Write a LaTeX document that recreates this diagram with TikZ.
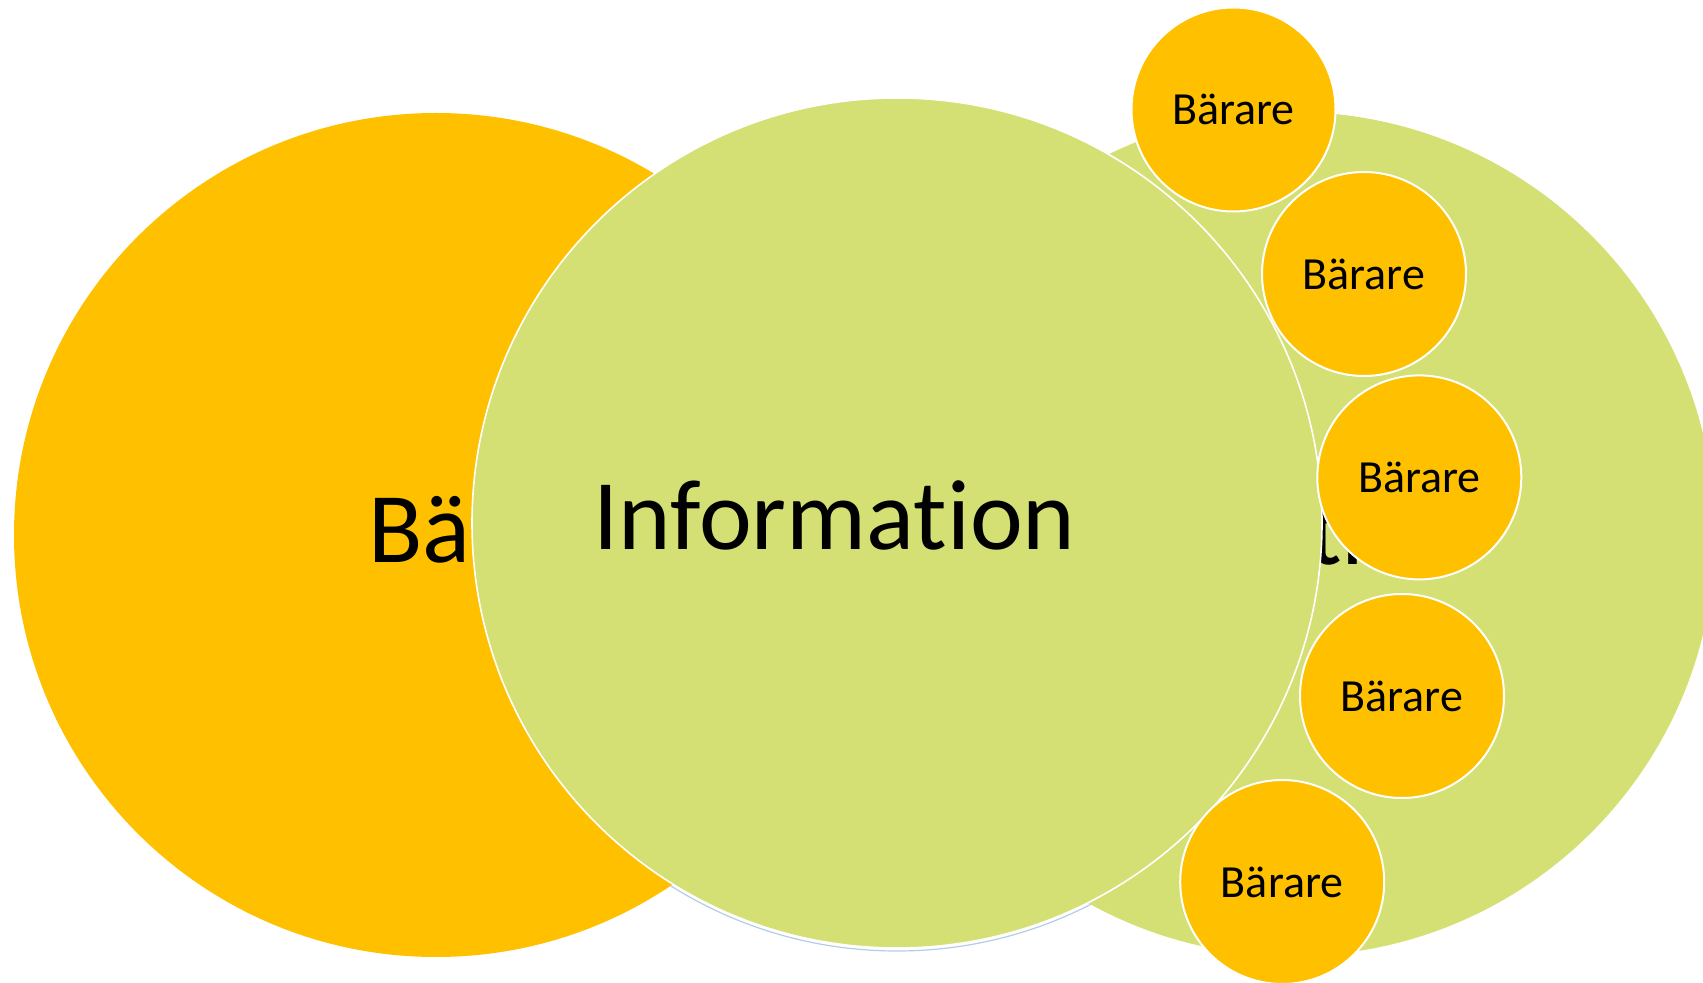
\documentclass[tikz,border=0pt]{standalone}
\usepackage{fontspec}
\setmainfont[Ligatures=NoCommon]{Carlito}
\definecolor{gul}{HTML}{FFC000}
\definecolor{gron}{HTML}{D4DF74}
\definecolor{skugga}{HTML}{B4CCE4}
\tikzset{
  stor/.style={circle, inner sep=0pt, minimum size=#1},
  liten/.style={circle, inner sep=0pt, minimum size=102pt, fill=gul, draw=white, line width=1pt, font=\fontsize{23}{27}\selectfont},
  rubrik/.style={anchor=base, inner sep=0pt, font=\fontsize{50}{60}\selectfont}
}
\begin{document}
\begin{tikzpicture}[x=0.5pt, y=-0.5pt]
            \useasboundingbox (0,0) rectangle (1703,983);
            \node[stor=425pt, draw=skugga, line width=0.6pt] (skugga) at (897,526) {};
            \node[stor=422pt, fill=gul] (barare) at (436,535) {};
            \node[rubrik] (bararetext) at (501.6,563) {Bärare};
            \node[stor=422pt, fill=gron] (info2) at (1293,534) {};
            \node[rubrik] (info2text) at (1229,565) {Information};
            \node[stor=425pt, fill=gron, draw=white, line width=0.8pt] (info) at (897,523) {};
            \node[rubrik] (infotext) at (834.5,550) {Information};
            \node[liten] (b1) at (1233.5,109.5) {Bärare};
            \node[liten] (b2) at (1364,274) {Bärare};
            \node[liten] (b3) at (1419.3,477.4) {Bärare};
            \node[liten] (b4) at (1402,696) {Bärare};
            \node[liten] (b5) at (1282.2,882) {Bärare};
        \end{tikzpicture}
\end{document}
